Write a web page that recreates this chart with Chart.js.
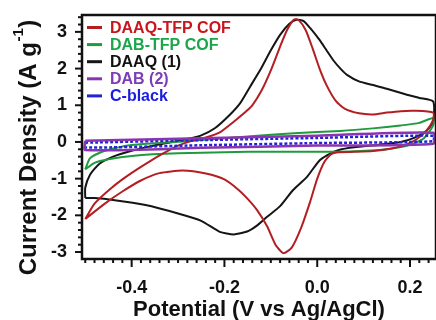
<!DOCTYPE html>
<html>
<head>
<meta charset="utf-8">
<script src="https://cdn.jsdelivr.net/npm/chart.js@4"></script>
<style>
  html, body { margin: 0; padding: 0; background: #fff; }
</style>
</head>
<body>
<canvas id="cvChart" width="436" height="320"></canvas>
<script>
// potential (V) and current density (A/g), each loop is forward sweep then back
const cofAqV = [-0.5, -0.48, -0.45, -0.42, -0.39, -0.36, -0.33, -0.30, -0.27, -0.24, -0.21, -0.18, -0.16, -0.14, -0.12, -0.10, -0.08, -0.065, -0.05, -0.04, -0.025, -0.01, 0.005, 0.02, 0.04, 0.06, 0.09, 0.12, 0.15, 0.18, 0.21, 0.25,
  0.25, 0.235, 0.215, 0.19, 0.16, 0.12, 0.08, 0.045, 0.03, 0.015, 0.0, -0.015, -0.035, -0.055, -0.073, -0.09, -0.108, -0.13, -0.15, -0.17, -0.2, -0.24, -0.29, -0.34, -0.38, -0.42, -0.46, -0.5];
const cofAqI = [-2.1, -1.68, -1.32, -1.02, -0.76, -0.52, -0.3, -0.1, 0.03, 0.12, 0.26, 0.55, 0.76, 1.0, 1.4, 1.95, 2.6, 3.05, 3.34, 3.32, 3.05, 2.55, 2.0, 1.55, 1.12, 0.9, 0.78, 0.75, 0.8, 0.84, 0.85, 0.8,
  0.6, 0.3, 0.08, -0.08, -0.18, -0.25, -0.27, -0.28, -0.33, -0.55, -1.0, -1.62, -2.35, -2.88, -3.03, -2.8, -2.3, -1.85, -1.55, -1.3, -1.02, -0.86, -0.78, -0.85, -1.05, -1.35, -1.7, -2.1];

const cofBV = [-0.5, -0.49, -0.47, -0.44, -0.40, -0.33, -0.25, -0.15, -0.05, 0.05, 0.12, 0.18, 0.22, 0.25,
  0.25, 0.23, 0.2, 0.15, 0.07, -0.05, -0.15, -0.3, -0.4, -0.45, -0.48, -0.5];
const cofBI = [-0.75, -0.45, -0.3, -0.18, -0.08, -0.02, 0.05, 0.15, 0.24, 0.3, 0.37, 0.45, 0.52, 0.65,
  0.45, 0.1, -0.08, -0.2, -0.26, -0.27, -0.27, -0.31, -0.38, -0.47, -0.57, -0.75];

const daaqV = [-0.5, -0.5, -0.49, -0.47, -0.44, -0.40, -0.36, -0.32, -0.28, -0.25, -0.22, -0.19, -0.166, -0.145, -0.123, -0.10, -0.08, -0.06, -0.045, -0.03, -0.015, 0.005, 0.02, 0.035, 0.05, 0.065, 0.09, 0.12, 0.15, 0.19, 0.22, 0.25,
  0.25, 0.235, 0.21, 0.18, 0.13, 0.07, 0.035, 0.006, -0.022, -0.052, -0.08, -0.108, -0.13, -0.151, -0.18, -0.21, -0.25, -0.3, -0.37, -0.44, -0.48, -0.5];
const daaqI = [-1.53, -1.25, -0.9, -0.6, -0.4, -0.24, -0.12, -0.02, 0.08, 0.18, 0.38, 0.72, 1.06, 1.5, 1.96, 2.5, 2.92, 3.22, 3.33, 3.3, 3.1, 2.78, 2.5, 2.22, 2.0, 1.82, 1.65, 1.55, 1.45, 1.3, 1.2, 1.1,
  0.55, 0.3, 0.12, 0.0, -0.08, -0.16, -0.27, -0.49, -0.95, -1.31, -1.75, -2.04, -2.28, -2.44, -2.52, -2.45, -2.15, -1.95, -1.72, -1.58, -1.53, -1.53];

const dabV = [-0.5, -0.25, 0.0, 0.25, 0.25, 0.0, -0.25, -0.5, -0.5];
const dabI = [0.03, 0.1, 0.17, 0.25, -0.05, -0.1, -0.16, -0.22, 0.03];

const cbV = [-0.5, -0.25, 0.0, 0.25, 0.25, 0.0, -0.25, -0.5, -0.5];
const cbI = [-0.02, 0.05, 0.11, 0.17, 0.02, -0.03, -0.09, -0.15, -0.02];

const seriesNames = ['DAAQ-TFP COF', 'DAB-TFP COF', 'DAAQ (1)', 'DAB (2)', 'C-black'];
const lineColors = ['#b41e22', '#1f9a3e', '#151515', '#8a35b0', '#2222d8'];
const textColors = ['#c8161e', '#1ba64c', '#111111', '#7c3db5', '#1c1ce0'];

const FONT = "'Liberation Sans', Arial, sans-serif";

function pts(xs, ys) {
  return xs.map((x, i) => ({ x: x, y: ys[i] }));
}

// box, tick marks, y title with a real superscript, and the in-plot legend
const frame = {
  id: 'frame',
  afterDatasetsDraw(chart) {
    const { ctx, chartArea: a, scales } = chart;
    ctx.save();
    ctx.strokeStyle = '#111';
    ctx.lineWidth = 2;
    scales.x.ticks.forEach(t => {
      const px = scales.x.getPixelForValue(t.value);
      const major = Math.abs(t.value / 0.2 - Math.round(t.value / 0.2)) < 1e-6;
      ctx.beginPath();
      ctx.moveTo(px, a.bottom);
      ctx.lineTo(px, a.bottom + (major ? 8 : 4));
      ctx.stroke();
    });
    scales.y.ticks.forEach(t => {
      const py = scales.y.getPixelForValue(t.value);
      const major = Math.abs(t.value - Math.round(t.value)) < 1e-6;
      ctx.beginPath();
      ctx.moveTo(a.left, py);
      ctx.lineTo(a.left - (major ? 7 : 4), py);
      ctx.stroke();
    });
    ctx.lineWidth = 2.5;
    ctx.strokeRect(a.left, a.top, a.right - a.left, a.bottom - a.top);

    // y title
    const main = 'Current Density (A g';
    const sup = '-1';
    const tail = ')';
    ctx.fillStyle = '#111';
    ctx.textBaseline = 'middle';
    ctx.textAlign = 'left';
    ctx.font = 'bold 24px ' + FONT;
    const wMain = ctx.measureText(main).width;
    const wTail = ctx.measureText(tail).width;
    ctx.font = 'bold 15px ' + FONT;
    const wSup = ctx.measureText(sup).width;
    const total = wMain + wSup + wTail;
    ctx.translate(29, 148);
    ctx.rotate(-Math.PI / 2);
    let x0 = -total / 2;
    ctx.font = 'bold 24px ' + FONT;
    ctx.fillText(main, x0, 0);
    ctx.font = 'bold 15px ' + FONT;
    ctx.fillText(sup, x0 + wMain + 0.5, -10);
    ctx.font = 'bold 24px ' + FONT;
    ctx.fillText(tail, x0 + wMain + wSup + 1, 0);
    ctx.setTransform(1, 0, 0, 1, 0, 0);

    ctx.font = 'bold 16px ' + FONT;
    chart.data.datasets.forEach((ds, i) => {
      const y = a.top + 12.5 + i * 17.1;
      ctx.strokeStyle = ds.borderColor;
      ctx.lineWidth = 3;
      ctx.beginPath();
      ctx.moveTo(a.left + 5, y);
      ctx.lineTo(a.left + 20, y);
      ctx.stroke();
      ctx.fillStyle = textColors[i];
      ctx.fillText(ds.label, a.left + 28, y + 1);
    });
    ctx.restore();
  }
};

const allV = [cofAqV, cofBV, daaqV, dabV, cbV];
const allI = [cofAqI, cofBI, daaqI, dabI, cbI];

const datasets = seriesNames.map((name, i) => ({
  label: name,
  data: pts(allV[i], allI[i]),
  showLine: true,
  borderColor: lineColors[i],
  borderWidth: i >= 3 ? 2.5 : 2,
  borderDash: i === 4 ? [3, 2] : [],
  pointRadius: 0,
  tension: 0.2,
  fill: false,
  order: i >= 3 ? 0 : i + 1
}));

new Chart(document.getElementById('cvChart').getContext('2d'), {
  type: 'scatter',
  data: { datasets: datasets },
  options: {
    responsive: false,
    animation: false,
    devicePixelRatio: 1,
    layout: { padding: { top: 15, right: 0, left: 0, bottom: 0 } },
    plugins: { legend: { display: false }, tooltip: { enabled: false } },
    scales: {
      x: {
        type: 'linear',
        min: -0.507,
        max: 0.256,
        afterBuildTicks: s => {
          const t = [];
          for (let k = -25; k <= 12; k++) t.push({ value: k / 50 });
          s.ticks = t;
        },
        afterFit: s => {
          s.height = 61;
          s.paddingLeft = 0;
          s.paddingRight = 0;
        },
        grid: { display: false, drawTicks: false },
        border: { display: false },
        ticks: {
          autoSkip: false,
          maxRotation: 0,
          padding: 18,
          color: '#111',
          font: { family: FONT, size: 18, weight: 'bold' },
          callback: v => {
            const r = v / 0.2;
            if (Math.abs(r - Math.round(r)) > 1e-6) return '';
            return (Math.round(v * 10) / 10).toFixed(1);
          }
        },
        title: {
          display: true,
          text: 'Potential (V vs Ag/AgCl)',
          color: '#111',
          font: { family: FONT, size: 22, weight: 'bold', lineHeight: 0.9 },
          padding: { top: 0, bottom: 0 }
        }
      },
      y: {
        min: -3.19,
        max: 3.46,
        afterBuildTicks: s => {
          const t = [];
          for (let k = -15; k <= 17; k++) t.push({ value: k / 5 });
          s.ticks = t;
        },
        afterFit: s => {
          s.width = 82;
          s.paddingTop = 0;
          s.paddingBottom = 0;
        },
        grid: { display: false, drawTicks: false },
        border: { display: false },
        ticks: {
          autoSkip: false,
          padding: 15,
          color: '#111',
          font: { family: FONT, size: 18, weight: 'bold' },
          callback: v => Math.abs(v - Math.round(v)) < 1e-6 ? String(Math.round(v)) : ''
        },
        title: { display: false }
      }
    }
  },
  plugins: [frame]
});
</script>
</body>
</html>
